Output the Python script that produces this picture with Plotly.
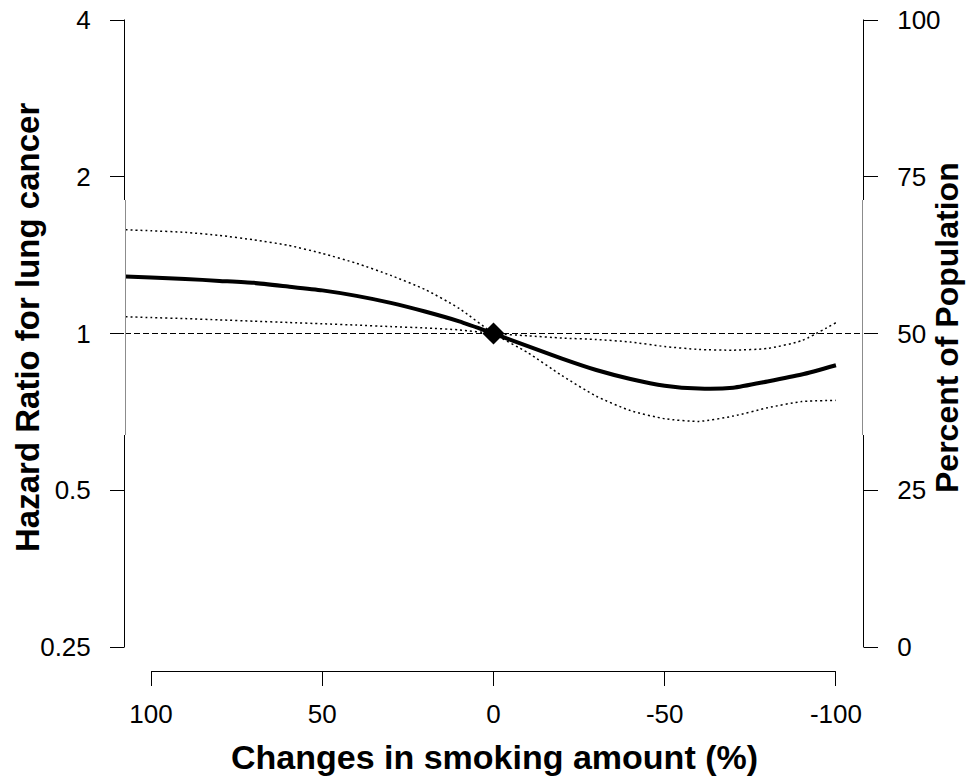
import math
import plotly.graph_objects as go

# ---- data ----
change_pct = [107.5, 100, 90, 80, 70, 60, 50, 40, 30, 20, 10, 0,
              -10, -20, -30, -40, -50, -60, -70, -80, -90, -100]
hr_est = [1.287, 1.281, 1.273, 1.262, 1.251, 1.231, 1.210, 1.181, 1.145, 1.102, 1.055, 1.000,
          0.946, 0.895, 0.851, 0.818, 0.794, 0.784, 0.787, 0.809, 0.834, 0.869]
hr_ci_a = [1.582, 1.575, 1.564, 1.543, 1.513, 1.477, 1.425, 1.364, 1.293, 1.215, 1.117, 1.000,
           0.919, 0.830, 0.758, 0.711, 0.686, 0.678, 0.694, 0.720, 0.740, 0.744]
hr_ci_b = [1.077, 1.073, 1.068, 1.062, 1.056, 1.050, 1.044, 1.038, 1.031, 1.025, 1.016, 1.000,
           0.990, 0.980, 0.974, 0.963, 0.944, 0.932, 0.929, 0.936, 0.969, 1.049]
ref_point_x = [0]
ref_point_hr = [1.0]
ref_hr = 1.0

x_ticks = [100, 50, 0, -50, -100]
x_tick_labels = ["100", "50", "0", "-50", "-100"]
hr_ticks = [0.25, 0.5, 1, 2, 4]
hr_tick_labels = ["0.25", "0.5", "1", "2", "4"]
pop_ticks = [0, 25, 50, 75, 100]
pop_tick_labels = ["0", "25", "50", "75", "100"]

x_range = [107.6, -107.9]
hr_range = [0.25, 4]
pop_range = [0, 100]

FONT = "Liberation Sans, Arial, sans-serif"

fig = go.Figure()

# reference line HR = 1 across the plot
fig.add_trace(go.Scatter(x=x_range, y=[ref_hr, ref_hr], mode="lines",
                         line=dict(color="black", width=1, dash="6px,3px"),
                         showlegend=False, hoverinfo="skip"))
# confidence bands
for ci in (hr_ci_a, hr_ci_b):
    fig.add_trace(go.Scatter(x=change_pct, y=ci, mode="lines",
                             line=dict(color="black", width=1.5, dash="2px,3px", shape="spline", smoothing=0.6),
                             showlegend=False, hoverinfo="skip"))
# estimate
fig.add_trace(go.Scatter(x=change_pct, y=hr_est, mode="lines",
                         line=dict(color="black", width=4, shape="spline", smoothing=0.6),
                         showlegend=False))
# reference diamond
fig.add_trace(go.Scatter(x=ref_point_x, y=ref_point_hr, mode="markers",
                         marker=dict(symbol="diamond", size=17, color="black"),
                         showlegend=False))
# dummy trace for right axis
fig.add_trace(go.Scatter(x=[None], y=[None], yaxis="y2", showlegend=False, hoverinfo="skip"))

W, H = 967, 778
ml, mr, mt, mb = 125, 104, 20, 107
plot_w = W - ml - mr
plot_h = H - mt - mb
y_dom0 = 24 / plot_h

def py(px):  # pixel y -> paper y
    return (H - mb - px) / plot_h

def pxx(px):  # pixel x -> paper x
    return (px - ml) / plot_w

tickfont = dict(family=FONT, size=26, color="black")

fig.update_layout(
    template="none",
    width=W, height=H,
    margin=dict(l=ml, r=mr, t=mt, b=mb, pad=0, autoexpand=False),
    paper_bgcolor="white", plot_bgcolor="white",
    font=dict(family=FONT, color="black"),
    xaxis=dict(range=x_range, tickvals=x_ticks, ticktext=x_tick_labels, automargin=False,
               ticks="outside", ticklen=14, tickwidth=1, tickcolor="black",
               showline=False, showgrid=False, zeroline=False,
               anchor="free", position=0, tickfont=tickfont, ticklabelstandoff=6),
    yaxis=dict(type="log", range=[math.log10(hr_range[0]), math.log10(hr_range[1])],
               tickvals=hr_ticks, ticktext=hr_tick_labels, domain=[y_dom0, 1], automargin=False,
               ticks="outside", ticklen=14, tickwidth=1, tickcolor="black",
               showline=False, showgrid=False, zeroline=False,
               tickfont=tickfont, ticklabelstandoff=14),
    yaxis2=dict(range=pop_range, tickvals=pop_ticks, ticktext=pop_tick_labels, automargin=False,
                overlaying="y", side="right", anchor="x",
                ticks="outside", ticklen=14, tickwidth=1, tickcolor="black",
                showline=False, showgrid=False, zeroline=False,
                tickfont=tickfont, ticklabelstandoff=14),
)

# axis lines (R style, with the lighter middle segment seen in the reference)
seg_top, seg_bot = py(200), py(435)
ytop, ybot = py(19.5), py(647.5)
for xline, off in ((pxx(124.5), pxx(125.5)), (pxx(863.5), pxx(862.5))):
    fig.add_shape(type="line", xref="paper", yref="paper", x0=xline, x1=xline, y0=ytop, y1=seg_top,
                  line=dict(color="black", width=1))
    fig.add_shape(type="line", xref="paper", yref="paper", x0=xline, x1=xline, y0=seg_bot, y1=ybot,
                  line=dict(color="black", width=1))
    fig.add_shape(type="line", xref="paper", yref="paper", x0=off, x1=off, y0=seg_top, y1=seg_bot,
                  line=dict(color="#8c8c8c", width=1))
fig.add_shape(type="line", xref="x", yref="paper", x0=x_ticks[0], x1=x_ticks[-1],
              y0=py(671.5), y1=py(671.5), line=dict(color="black", width=1))

ytitlefont = dict(family=FONT, size=33, color="black", weight="bold")
rtitlefont = dict(family=FONT, size=32, color="black", weight="bold")
xtitlefont = dict(family=FONT, size=34, color="black", weight="bold")
fig.add_annotation(text="Hazard Ratio for lung cancer", xref="paper", yref="paper",
                   x=pxx(27), y=py(328), xanchor="center", yanchor="middle",
                   textangle=-90, showarrow=False, font=ytitlefont)
fig.add_annotation(text="Percent of Population", xref="paper", yref="paper",
                   x=pxx(947), y=py(328), xanchor="center", yanchor="middle",
                   textangle=-90, showarrow=False, font=rtitlefont)
fig.add_annotation(text="Changes in smoking amount (%)", xref="paper", yref="paper",
                   x=pxx(494), y=py(757), xanchor="center", yanchor="middle",
                   showarrow=False, font=xtitlefont)

fig.write_html("out.html", config={"displayModeBar": False},
               post_script="document.body.style.margin='0';document.body.style.overflow='hidden';")
